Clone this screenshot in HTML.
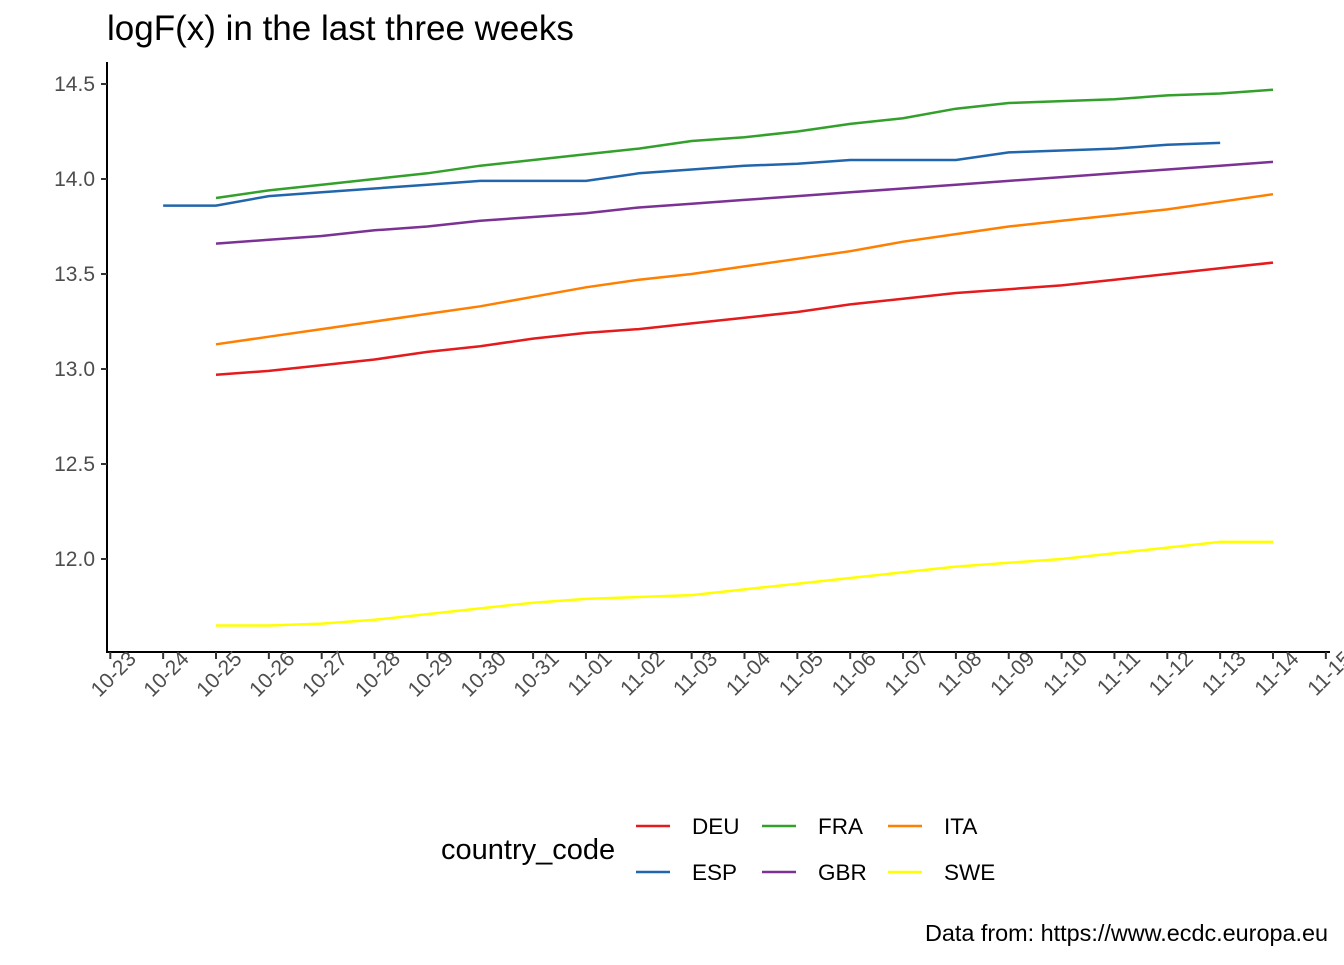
<!DOCTYPE html>
<html><head><meta charset="utf-8"><style>
body{margin:0;background:#fff;}
svg text{font-family:"Liberation Sans",Arial,sans-serif;}
</style></head><body>
<svg id="chart" width="1344" height="960" viewBox="0 0 1344 960" xmlns="http://www.w3.org/2000/svg">
<text x="107" y="40" font-size="35" fill="#000">logF(x) in the last three weeks</text>
<g id="axes"></g>
<g id="series"></g>
<g id="legend">
<text x="441" y="859" font-size="29" fill="#000">country_code</text>
</g>
<text x="1328" y="941" font-size="23.4" text-anchor="end" fill="#000">Data from: https://www.ecdc.europa.eu</text>
</svg>
<script>
const dates=["10-23","10-24","10-25","10-26","10-27","10-28","10-29","10-30","10-31","11-01","11-02","11-03","11-04","11-05","11-06","11-07","11-08","11-09","11-10","11-11","11-12","11-13","11-14","11-15"];
const yTicks=[12.0,12.5,13.0,13.5,14.0,14.5];
const DEU=[12.97,12.99,13.02,13.05,13.09,13.12,13.16,13.19,13.21,13.24,13.27,13.30,13.34,13.37,13.40,13.42,13.44,13.47,13.50,13.53,13.56];
const ITA=[13.13,13.17,13.21,13.25,13.29,13.33,13.38,13.43,13.47,13.50,13.54,13.58,13.62,13.67,13.71,13.75,13.78,13.81,13.84,13.88,13.92];
const GBR=[13.66,13.68,13.70,13.73,13.75,13.78,13.80,13.82,13.85,13.87,13.89,13.91,13.93,13.95,13.97,13.99,14.01,14.03,14.05,14.07,14.09];
const FRA=[13.90,13.94,13.97,14.00,14.03,14.07,14.10,14.13,14.16,14.20,14.22,14.25,14.29,14.32,14.37,14.40,14.41,14.42,14.44,14.45,14.47];
const ESP=[13.86,13.86,13.91,13.93,13.95,13.97,13.99,13.99,13.99,14.03,14.05,14.07,14.08,14.10,14.10,14.10,14.14,14.15,14.16,14.18,14.19];
const SWE=[11.65,11.65,11.66,11.68,11.71,11.74,11.77,11.79,11.80,11.81,11.84,11.87,11.90,11.93,11.96,11.98,12.00,12.03,12.06,12.09,12.09];
const NS="http://www.w3.org/2000/svg";
const x=i=>110.3+i*52.85;
const y=v=>84+(14.5-v)*190;
function mk(t,a,p){const e=document.createElementNS(NS,t);for(const k in a)e.setAttribute(k,a[k]);p.appendChild(e);return e;}
const ax=document.getElementById('axes');
const yl=mk('line',{x1:107,y1:62,x2:107,y2:653,stroke:'#000','stroke-width':2},ax);


const xl=mk('line',{x1:106,y1:652,x2:1330,y2:652,stroke:'#000','stroke-width':2},ax);


yTicks.forEach(v=>{
 mk('line',{x1:101,x2:107,y1:y(v),y2:y(v),stroke:'#333','stroke-width':2},ax);
 const t=mk('text',{x:95,y:y(v)+7,'font-size':21,'text-anchor':'end',fill:'#4d4d4d'},ax);
 t.textContent=v.toFixed(1);
 
 
});
dates.forEach((d,i)=>{
 mk('line',{x1:x(i),x2:x(i),y1:652,y2:659,stroke:'#333','stroke-width':2},ax);
 const t=mk('text',{x:0,y:0,'font-size':21,'text-anchor':'end',fill:'#4d4d4d',transform:`translate(${x(i)+27},${660}) rotate(-45)`},ax);
 t.textContent=d;
 
 
});
const series=[["DEU",DEU,2,"#e41a1c"],["ESP",ESP,1,"#2166ac"],["FRA",FRA,2,"#33a02c"],["GBR",GBR,2,"#7b3294"],["ITA",ITA,2,"#ff7f00"],["SWE",SWE,2,"#ffff00"]];
const sg=document.getElementById('series');
series.forEach(([n,vals,start,c])=>{
 const p=mk('polyline',{points:vals.map((v,i)=>x(i+start)+','+y(v)).join(' '),fill:'none',stroke:c,'stroke-width':2.5},sg);
 
 
});
const lg=document.getElementById('legend');
const pos=[["DEU",636,826],["ESP",636,872],["FRA",762,826],["GBR",762,872],["ITA",888,826],["SWE",888,872]];
pos.forEach(([n,lx,ly])=>{
 const c=series.find(s=>s[0]==n)[3];
 const g=mk('g',{},lg);
 
 
 mk('line',{x1:lx,x2:lx+34,y1:ly,y2:ly,stroke:c,'stroke-width':2.5},g);
 const t=mk('text',{x:lx+56,y:ly+8,'font-size':22.5,fill:'#000'},g);
 t.textContent=n;
});
</script>
</body></html>
